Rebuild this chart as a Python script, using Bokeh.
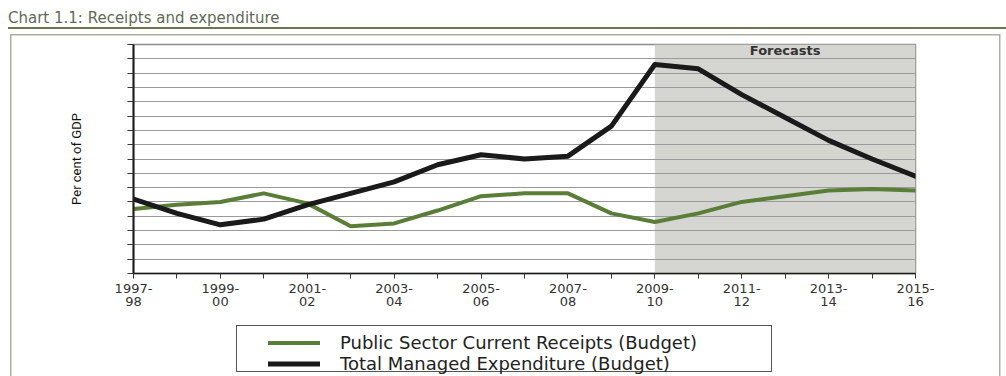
from bokeh.embed import file_html
from bokeh.layouts import column
from bokeh.models import (BoxAnnotation, Div, FixedTicker, Label, Legend,
                          LegendItem, Range1d)
from bokeh.plotting import figure
from bokeh.resources import INLINE

# Fiscal years, per cent of GDP
periods = ["1997-98", "1998-99", "1999-00", "2000-01", "2001-02", "2002-03",
           "2003-04", "2004-05", "2005-06", "2006-07", "2007-08", "2008-09",
           "2009-10", "2010-11", "2011-12", "2012-13", "2013-14", "2014-15",
           "2015-16"]
receipts = [37.5, 37.8, 38.0, 38.6, 37.9, 36.3, 36.5, 37.4, 38.4, 38.6,
            38.6, 37.2, 36.6, 37.2, 38.0, 38.4, 38.8, 38.9, 38.8]
expenditure = [38.2, 37.2, 36.4, 36.8, 37.8, 38.6, 39.4, 40.6, 41.3, 41.0,
               41.2, 43.3, 47.6, 47.3, 45.5, 43.9, 42.3, 41.0, 39.8]
tick_labels = ["1997-\n98", "1999-\n00", "2001-\n02", "2003-\n04",
               "2005-\n06", "2007-\n08", "2009-\n10", "2011-\n12",
               "2013-\n14", "2015-\n16"]
forecast_from = "2009-10"
y_low, y_high = 33, 49
heading = "Chart 1.1: Receipts and expenditure"

x = list(range(len(periods)))
major = x[::2]
minor = x[1::2]

W = 1006
HEAD_H, CHART_H, KEY_H = 34, 286, 56
LEFT, RIGHT, TOP, BOTTOM = 133, 91, 10, 47

rec_style = dict(line_color="#5a7d38", line_width=4, line_join="round", line_cap="round")
exp_style = dict(line_color="#1a1a1a", line_width=5, line_join="round", line_cap="round")


def bar(color, left, top, width, height):
    """One CSS background layer drawing a solid strip on the page."""
    return f"linear-gradient({color},{color}) {left}px {top}px / {width}px {height}px no-repeat"


# heading rule, surrounding panel and key frame, painted behind the canvases
panel = "#a9b0a0"
key_edge = "#555555"
layers = [
    bar("#6b7552", 8, 27, 998, 2),
    bar(panel, 10, 34, 990, 1.5),
    bar(panel, 10, 34, 1.5, 342),
    bar(panel, 999, 34, 1.5, 342),
    bar(key_edge, 236, 325, 536, 1),
    bar(key_edge, 236, 371, 536, 1),
    bar(key_edge, 236, 325, 1, 47),
    bar(key_edge, 771, 325, 1, 47),
]

# ---- heading ----
head = Div(text=(f'<div style="padding:11px 0 0 8px; margin:0; font-family:\'DejaVu Sans\'; '
                 f'font-size:15px; line-height:15px; color:#5f6a55; white-space:nowrap">'
                 f'{heading}</div>'),
           width=W, height=HEAD_H, margin=0)

# ---- chart ----
p = figure(width=W, height=CHART_H, output_backend="svg", toolbar_location=None,
           title=None,
           x_range=Range1d(0, len(periods) - 1), y_range=Range1d(y_low, y_high),
           min_border_left=LEFT, min_border_right=RIGHT,
           min_border_top=TOP, min_border_bottom=BOTTOM)
p.background_fill_color = "white"
p.border_fill_color = None
p.outline_line_color = "#8c8c8c"
p.outline_line_width = 1.5

# forecast period shading
fc = periods.index(forecast_from)
p.add_layout(BoxAnnotation(left=fc, right=len(periods) - 1,
                           fill_color="#d5d5d1", fill_alpha=1.0,
                           line_color=None, level="image"))

p.xaxis.ticker = FixedTicker(ticks=major, minor_ticks=minor)
p.xaxis.major_label_overrides = {i: t for i, t in zip(major, tick_labels)}
p.xaxis.major_label_text_font = "DejaVu Sans"
p.xaxis.major_label_text_font_size = "13px"
p.xaxis.major_label_text_color = "#333333"
p.xaxis.major_label_text_line_height = 0.9
p.xaxis.major_label_standoff = 2
p.xaxis.major_tick_in = 0
p.xaxis.major_tick_out = 5
p.xaxis.minor_tick_in = 0
p.xaxis.minor_tick_out = 5
p.xaxis.axis_line_color = "#1a1a1a"
p.xaxis.axis_line_width = 1.5
p.xaxis.major_tick_line_color = "#333333"
p.xaxis.minor_tick_line_color = "#333333"

p.yaxis.ticker = FixedTicker(ticks=list(range(y_low, y_high + 1)), minor_ticks=[])
p.yaxis.major_label_text_color = None
p.yaxis.major_label_text_font_size = "1px"
p.yaxis.major_label_standoff = 0
p.yaxis.major_tick_in = 0
p.yaxis.major_tick_out = 6
p.yaxis.major_tick_line_color = "#333333"
p.yaxis.axis_line_color = "#1a1a1a"
p.yaxis.axis_line_width = 2
p.yaxis.axis_label = "Per cent of GDP"
p.yaxis.axis_label_text_font = "Roboto"
p.yaxis.axis_label_text_font_size = "13px"
p.yaxis.axis_label_text_font_style = "normal"
p.yaxis.axis_label_text_color = "#111111"
p.yaxis.axis_label_standoff = 44

p.xgrid.grid_line_color = None
p.ygrid.grid_line_color = "#9a9a9a"
p.ygrid.grid_line_width = 1.2

p.line(x, receipts, **rec_style)
p.line(x, expenditure, **exp_style)

p.add_layout(Label(x=fc + (len(periods) - 1 - fc) / 2, y=48.55, text="Forecasts",
                   text_align="center", text_baseline="middle",
                   text_font="DejaVu Sans", text_font_style="bold",
                   text_font_size="13px", text_color="#333333"))

# ---- key ----
# The swatches take their styling from these renderers; the key's own range
# keeps the series themselves out of its (empty) view.
k = figure(width=W, height=KEY_H, output_backend="svg", toolbar_location=None,
           title=None, x_range=Range1d(0, 1), y_range=Range1d(0, 1),
           x_axis_location=None, y_axis_location=None,
           min_border=0, min_border_left=0, min_border_right=0,
           min_border_top=0, min_border_bottom=0)
k.grid.visible = False
k.outline_line_color = None
k.background_fill_color = None
k.border_fill_color = None
k_rec = k.line(x, receipts, **rec_style)
k_exp = k.line(x, expenditure, **exp_style)
legend = Legend(items=[LegendItem(label="Public Sector Current Receipts (Budget)", renderers=[k_rec]),
                       LegendItem(label="Total Managed Expenditure (Budget)", renderers=[k_exp])],
                location=(135, 2), orientation="vertical",
                border_line_color=None, background_fill_alpha=0,
                padding=10, margin=0, spacing=0,
                glyph_width=52, glyph_height=19, label_height=19,
                label_standoff=20, label_text_font="DejaVu Sans",
                label_text_font_size="18px", label_text_color="#222222")
k.add_layout(legend)

page = column(head, p, k, spacing=0)
page.styles = {"background": ", ".join(layers) + ", white"}

open("out.html", "w").write(file_html(page, INLINE))
